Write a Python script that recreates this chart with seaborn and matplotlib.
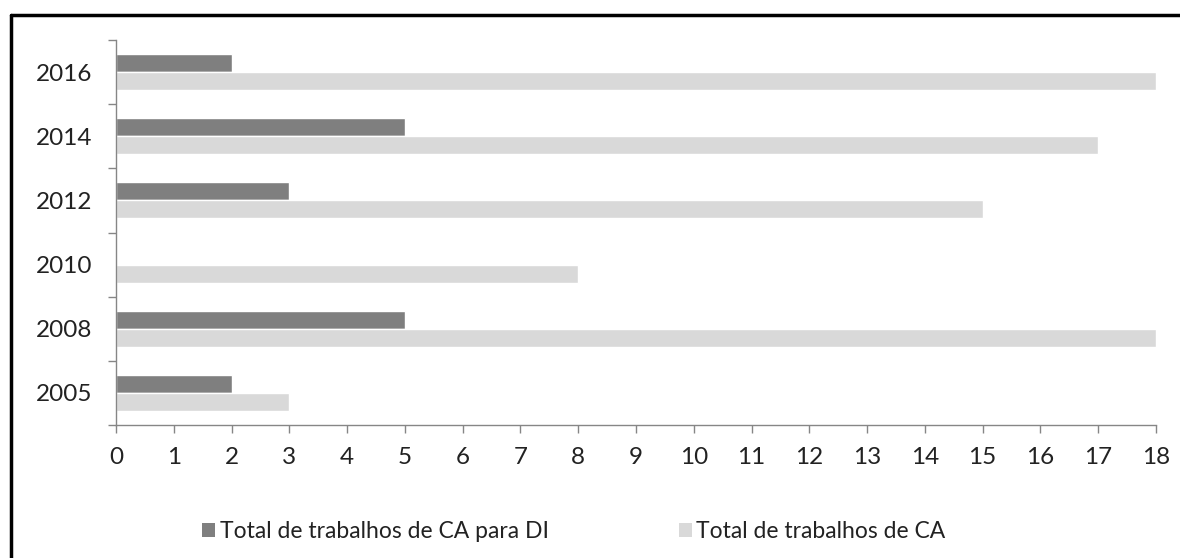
import matplotlib
matplotlib.use("Agg")
import matplotlib.pyplot as plt
import seaborn as sns
import pandas as pd
from matplotlib.lines import Line2D
from matplotlib.patches import Patch

years = ["2016", "2014", "2012", "2010", "2008", "2005"]
ca_para_di = [2, 5, 3, 0, 5, 2]
ca_total = [18, 17, 15, 8, 18, 3]
series_names = ["Total de trabalhos de CA para DI", "Total de trabalhos de CA"]
colors = ["#7f7f7f", "#d9d9d9"]
xticks = list(range(0, 19))

df = pd.DataFrame({
    "ano": years * 2,
    "valor": ca_para_di + ca_total,
    "serie": [series_names[0]] * len(years) + [series_names[1]] * len(years),
})

sns.set_theme(style="white")
plt.rcParams["font.family"] = ["Lato", "DejaVu Sans"]

fig = plt.figure(figsize=(11.8, 5.58), dpi=100)
ax = fig.add_axes([116/1180, 1 - 425/558, (1156 - 116)/1180, (425 - 40)/558])

sns.barplot(data=df, x="valor", y="ano", hue="serie", order=years,
            hue_order=series_names, palette=colors, orient="h",
            width=0.56, saturation=1, ax=ax, legend=False)

ax.set_xlim(0, 18)
ax.set_ylim(len(years) - 0.5, -0.5)
ax.set_xticks(xticks)
ax.set_xticklabels([str(t) for t in xticks], fontsize=17.5, color="#222222")
ax.set_yticks(range(len(years)))
ax.set_yticklabels(years, fontsize=17.5, color="#222222")
ax.set_yticks([i - 0.5 for i in range(len(years) + 1)], minor=True)
ax.tick_params(axis="y", which="major", length=0, pad=17)
ax.tick_params(axis="y", which="minor", length=6, width=1, color="#868686", direction="out", left=True)
ax.tick_params(axis="x", which="major", length=6, width=1, color="#868686", direction="out", bottom=True, pad=10)
ax.set_xlabel("")
ax.set_ylabel("")
for s in ["top", "right"]:
    ax.spines[s].set_visible(False)
for s in ["left", "bottom"]:
    ax.spines[s].set_color("#868686")
    ax.spines[s].set_linewidth(1)

handles = [Patch(facecolor=c, edgecolor="none") for c in colors]
fig.legend(handles, series_names, loc="center", bbox_to_anchor=(574/1180, 1 - 532/558),
           ncol=2, frameon=False, fontsize=16.5, handlelength=0.55, handleheight=0.55,
           handletextpad=0.2, columnspacing=5.7, labelcolor="#222222")

# outer frame: visible on top and left only (right/bottom fall outside the image)
x0 = 10.5/1180
y0 = 1 - 14.5/558
fig.add_artist(Line2D([x0, 1.0], [y0, y0], transform=fig.transFigure, color="black", linewidth=2.5))
fig.add_artist(Line2D([x0, x0], [0.0, y0], transform=fig.transFigure, color="black", linewidth=2.5))

fig.savefig("out.png", dpi=100)
